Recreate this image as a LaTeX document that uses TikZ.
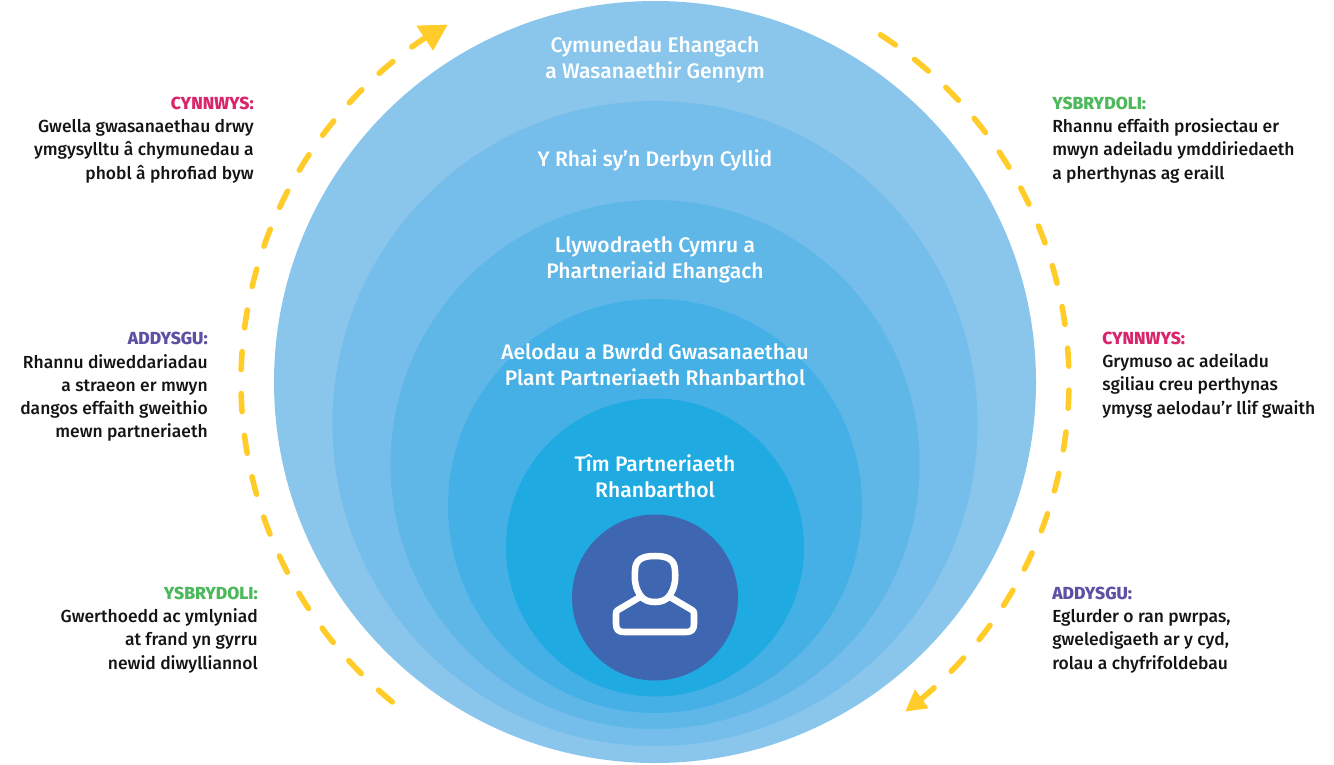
\documentclass[tikz,border=0pt]{standalone}
\usepackage{fontspec}
\setmainfont{Fira Sans}
\newfontfamily\firamed{Fira Sans Medium}
\usetikzlibrary{arrows.meta,calc}
\definecolor{c1}{HTML}{8AC6EC}
\definecolor{c2}{HTML}{75BDEA}
\definecolor{c3}{HTML}{5FB7E8}
\definecolor{c4}{HTML}{45B0E5}
\definecolor{c5}{HTML}{1FAAE2}
\definecolor{c6}{HTML}{3F66B0}
\definecolor{yel}{HTML}{FFCC29}
\definecolor{pinkh}{HTML}{D9256B}
\definecolor{purph}{HTML}{5D51A4}
\definecolor{greenh}{HTML}{4DB85C}
\tikzset{x=0.75pt,y=-0.75pt,
 ring/.style={circle,inner sep=0pt,minimum size=#1*1.5pt,draw=none},
 ringlabel/.style={text=white,align=center,font=\firamed\fontsize{15.8}{19.5}\selectfont},
 sideleft/.style={font=\firamed\fontsize{13.1}{17.4}\selectfont,text=black!92,align=right,anchor=east,inner sep=0pt},
 sideright/.style={font=\firamed\fontsize{13.1}{17.4}\selectfont,text=black!92,align=left,anchor=west,inner sep=0pt},
 dasharc/.style={draw=yel,line width=4.2pt,line cap=round,dash pattern=on 13.5pt off 18pt},
 tipfill/.style={fill=yel,draw=yel,line width=0.5pt,line join=round}}
\newcommand{\hd}[2]{\textcolor{#1}{\bfseries #2}}
\begin{document}
\begin{tikzpicture}
\useasboundingbox (0,0) rectangle (1334,764);
\node[ring=381,fill=c1] (r1) at (655,382) {};
\node[ring=322.5,fill=c2] (r2) at (655,423.5) {};
\node[ring=264.5,fill=c3] (r3) at (655,464.5) {};
\node[ring=207,fill=c4] (r4) at (655,506) {};
\node[ring=149,fill=c5] (r5) at (655,547.5) {};
\node[ring=83,fill=c6] (r6) at (655,597.5) {};
\node[ringlabel] (t1) at (655,60) {Cymunedau Ehangach\\a Wasanaethir Gennym};
\node[ringlabel] (t2) at (655,160) {Y Rhai sy’n Derbyn Cyllid};
\node[ringlabel] (t3) at (655,259.6) {Llywodraeth Cymru a\\Phartneriaid Ehangach};
\node[ringlabel] (t4) at (655,365) {Aelodau a Bwrdd Gwasanaethau\\Plant Partneriaeth Rhanbarthol};
\node[ringlabel] (t5) at (655,476) {Tîm Partneriaeth\\Rhanbarthol};
% person icon
\draw[white,line width=4.9pt,line join=round]
 (640,595) .. controls (636,589) and (634,581) .. (635,571)
 .. controls (635,559) and (643,556) .. (655,556)
 .. controls (667,556) and (675,559) .. (675,571)
 .. controls (676,581) and (674,589) .. (670,595)
 .. controls (666,601) and (660,602) .. (655,602)
 .. controls (650,602) and (644,601) .. (640,595) -- cycle;
\draw[white,line width=4.9pt,line join=round]
 (640,597) -- (618,610) .. controls (616,611) and (616,612) .. (616,614)
 -- (616,624) .. controls (616,630) and (619,632) .. (624,632)
 -- (686,632) .. controls (691,632) and (694,630) .. (694,624)
 -- (694,614) .. controls (694,612) and (694,611) .. (692,610) -- (670,597);
% dashed arcs (centre 655,382; radius 414 px = 310.5 pt)
\coordinate (la) at ($(655,382)+(230.6:310.5pt)$);
\coordinate (ra) at ($(655,382)+(57:310.5pt)$);
\draw[dasharc] (la) arc[start angle=230.6,end angle=123.6,radius=310.5pt];
\draw[dasharc] (ra) arc[start angle=57,end angle=-50,radius=310.5pt];
\coordinate (a1) at (417,26);\coordinate (a2) at (447,25);\coordinate (a3) at (433,50);
\coordinate (b1) at (915,690);\coordinate (b2) at (906,711);\coordinate (b3) at (928,708);
\fill[tipfill] (a1) -- (a2) -- (a3) -- cycle;
\fill[tipfill] (b1) -- (b2) -- (b3) -- cycle;
% side texts
\node[sideleft] (s1) at (254,140) {\hd{pinkh}{CYNNWYS:}\\Gwella gwasanaethau drwy\\ymgysylltu â chymunedau a\\phobl â phrofiad byw};
\node[sideleft] (s2) at (208,387) {\hd{purph}{ADDYSGU:}\\Rhannu diweddariadau\\a straeon er mwyn\\dangos effaith gweithio\\mewn partneriaeth};
\node[sideleft] (s3) at (258,630) {\hd{greenh}{YSBRYDOLI:}\\Gwerthoedd ac ymlyniad\\at frand yn gyrru\\newid diwylliannol};
\node[sideright] (s4) at (1052,140) {\hd{greenh}{YSBRYDOLI:}\\Rhannu effaith prosiectau er\\mwyn adeiladu ymddiriedaeth\\a pherthynas ag eraill};
\node[sideright] (s5) at (1102,375) {\hd{pinkh}{CYNNWYS:}\\Grymuso ac adeiladu\\sgiliau creu perthynas\\ymysg aelodau’r llif gwaith};
\node[sideright] (s6) at (1052,630) {\hd{purph}{ADDYSGU:}\\Eglurder o ran pwrpas,\\gweledigaeth ar y cyd,\\rolau a chyfrifoldebau};
\end{tikzpicture}
\end{document}
